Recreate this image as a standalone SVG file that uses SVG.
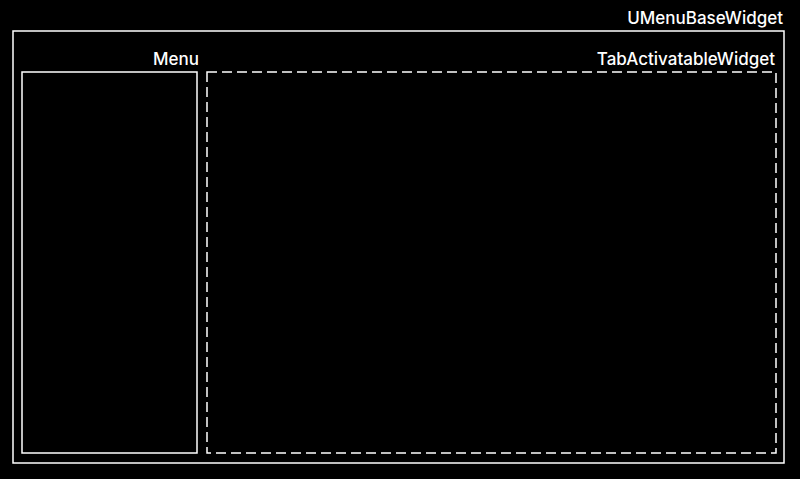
<svg xmlns="http://www.w3.org/2000/svg" width="800" height="479" viewBox="0 0 800 479">
<style>
.lbl{font-family:Inter,"Noto Sans",sans-serif;font-size:17px;font-weight:500;fill:#ffffff;text-anchor:end}
.box{fill:none;stroke:#ffffff;stroke-width:1.5}
.dash{stroke-dasharray:10 5}
</style>
<rect width="800" height="479" fill="#000000"/>
<g id="UMenuBaseWidget">
<rect class="box" x="13" y="31" width="771" height="432"/>
<text class="lbl" x="783" y="24">UMenuBaseWidget</text>
</g>
<g id="Menu">
<rect class="box" x="22" y="72" width="175" height="381"/>
<text class="lbl" x="199" y="65">Menu</text>
</g>
<g id="TabActivatableWidget">
<rect class="box dash" x="207" y="72" width="569" height="381"/>
<text class="lbl" x="775" y="65">TabActivatableWidget</text>
</g>
<g id="connectors"/>
</svg>
